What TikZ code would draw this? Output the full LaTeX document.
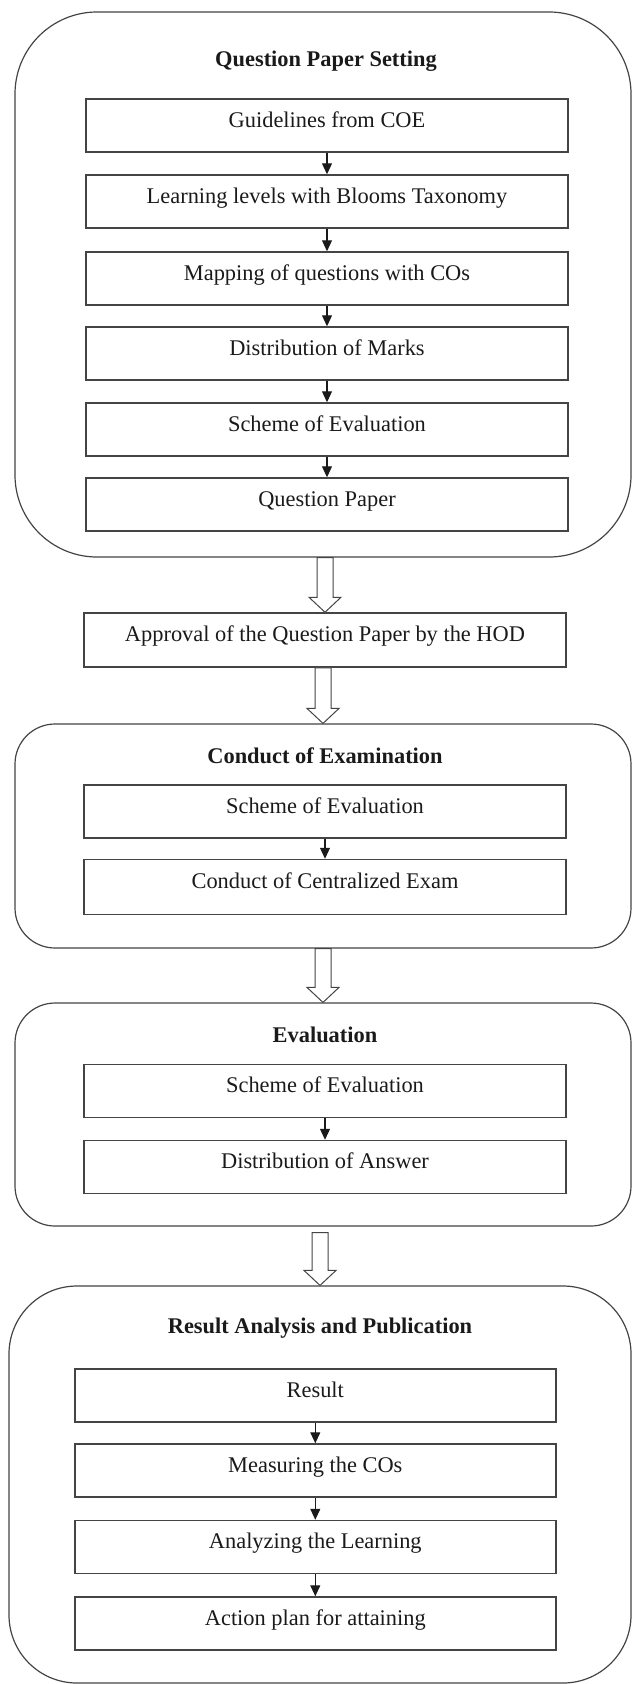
\documentclass[tikz,border=0pt]{standalone}
\usepackage{fontspec}
\setmainfont{Liberation Serif}
\usetikzlibrary{arrows.meta,calc}
\definecolor{edge}{HTML}{444444}
\definecolor{ink}{HTML}{1A1A1A}
\newcommand\hollowarrow[3]{%
  \coordinate (ha-s) at ($(#1.south -| #2.north)+(0,#3)$);
  \coordinate (ha-t) at (#2.north);
  \draw[hollow] ($(ha-s)+(-8,0)$) -- ($(ha-t)+(-8,-15)$) -- ($(ha-t)+(-16,-15)$) -- (ha-t)
    -- ($(ha-t)+(16,-15)$) -- ($(ha-t)+(8,-15)$) -- ($(ha-s)+(8,0)$) -- cycle;
}
\begin{document}
\begin{tikzpicture}[x=1pt,y=-1pt,
  font=\fontsize{22.4}{26}\selectfont,
  outer/.style={draw=edge, line width=1.2pt, minimum width=616pt, inner sep=0pt},
  stepbox/.style={draw=edge, line width=1.5pt, minimum width=482pt, minimum height=53pt,
    inner sep=0pt, text height=15pt, text depth=12pt, text=ink},
  heading/.style={font=\fontsize{22.4}{26}\selectfont\bfseries, anchor=base, text=ink, inner sep=0pt},
  flow/.style={draw=ink, line width=1.1pt, -{Triangle[length=11pt,width=10pt]}},
  hollow/.style={draw=edge, line width=1pt, fill=white, line join=miter}]
\useasboundingbox (0,0) rectangle (632,1684);

% Section 1
\node[outer, rounded corners=82pt, minimum height=545pt] (qps) at (323,284.5) {};
\node[heading] (qpst) at (326,66) {Question Paper Setting};
\node[stepbox] (g1) at (327,125.5) {Guidelines from COE};
\node[stepbox] (g2) at (327,201.5) {Learning levels with Blooms Taxonomy};
\node[stepbox] (g3) at (327,278.5) {Mapping of questions with COs};
\node[stepbox] (g4) at (327,353.5) {Distribution of Marks};
\node[stepbox] (g5) at (327,429.5) {Scheme of Evaluation};
\node[stepbox] (g6) at (327,504.5) {Question Paper};
\draw[flow] (g1) -- (g2);
\draw[flow] (g2) -- (g3);
\draw[flow] (g3) -- (g4);
\draw[flow] (g4) -- (g5);
\draw[flow] (g5) -- (g6);

% Approval
\node[stepbox, minimum height=54pt] (appr) at (325,640) {Approval of the Question Paper by the HOD};

% Section 2
\node[outer, rounded corners=40pt, minimum height=224pt] (coe) at (323,836) {};
\node[heading] (coet) at (325,763) {Conduct of Examination};
\node[stepbox] (c1) at (325,811.5) {Scheme of Evaluation};
\node[stepbox, minimum height=55pt] (c2) at (325,887) {Conduct of Centralized Exam};
\draw[flow] (c1) -- (c2);

% Section 3
\node[outer, rounded corners=40pt, minimum height=223pt] (ev) at (323,1114.5) {};
\node[heading] (evt) at (325,1042) {Evaluation};
\node[stepbox] (e1) at (325,1091) {Scheme of Evaluation};
\node[stepbox] (e2) at (325,1167) {Distribution of Answer};
\draw[flow] (e1) -- (e2);

% Section 4
\node[outer, rounded corners=68pt, minimum width=622pt, minimum height=397pt] (rap) at (320,1484.5) {};
\node[heading] (rapt) at (320,1333) {Result Analysis and Publication};
\node[stepbox, minimum width=481pt] (r1) at (315.3,1395.5) {Result};
\node[stepbox, minimum width=481pt] (r2) at (315.3,1470.5) {Measuring the COs};
\node[stepbox, minimum width=481pt] (r3) at (315.3,1547) {Analyzing the Learning};
\node[stepbox, minimum width=481pt] (r4) at (315.3,1623.5) {Action plan for attaining};
\draw[flow] (r1) -- (r2);
\draw[flow] (r2) -- (r3);
\draw[flow] (r3) -- (r4);

% Hollow arrows between stages
\hollowarrow{qps}{appr}{0}
\hollowarrow{appr}{coe}{0}
\hollowarrow{coe}{ev}{0}
\hollowarrow{ev}{rap}{6}
\end{tikzpicture}
\end{document}
